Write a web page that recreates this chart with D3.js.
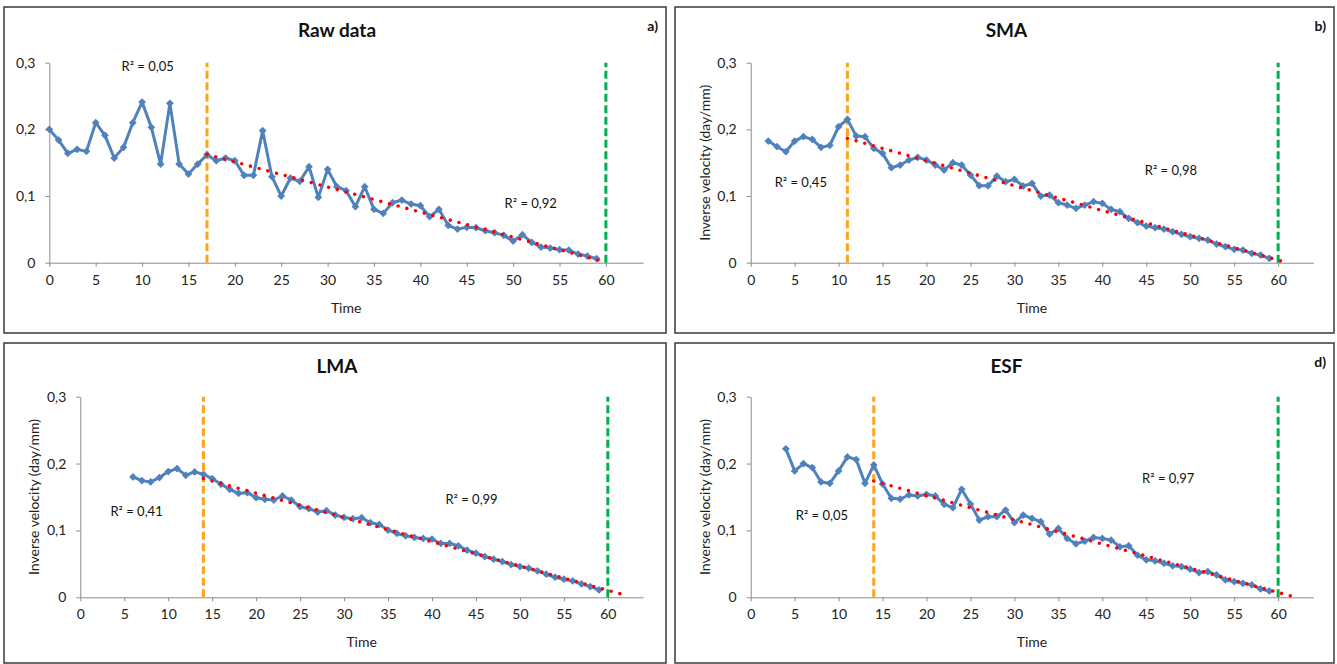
<!DOCTYPE html>
<html>
<head>
<meta charset="utf-8">
<title>Inverse velocity</title>
<script src="https://cdn.jsdelivr.net/npm/d3@7"></script>
<style>
body { margin: 0; background: #fff; font-family: Lato, "Open Sans", sans-serif; }
.frame { fill: #fff; stroke: #3a3a3a; stroke-width: 1.5px; }
.axis path, .axis line { stroke: #8c8c8c; stroke-width: 1px; fill: none; }
.axis text { font-family: Lato, sans-serif; font-size: 14px; fill: #222; }
.title { font-size: 19px; font-weight: bold; fill: #111; }
.corner { font-size: 14px; font-weight: bold; fill: #111; }
.axis-label { font-size: 14px; fill: #222; }
.r2 { font-size: 13px; fill: #111; }
</style>
</head>
<body>
<script>
// series: inverse velocity (day/mm) per time step
var rawStart = 0;
var rawValues = [0.200,0.184,0.164,0.170,0.167,0.210,0.191,0.157,0.173,0.210,
  0.241,0.203,0.148,0.239,0.148,0.133,0.148,0.162,0.153,0.157,
  0.153,0.131,0.131,0.198,0.129,0.100,0.127,0.122,0.144,0.098,
  0.140,0.114,0.108,0.084,0.114,0.080,0.074,0.090,0.094,0.088,
  0.0855,0.069,0.080,0.056,0.0505,0.053,0.0525,0.048,0.045,0.041,
  0.0325,0.042,0.0305,0.0235,0.022,0.0195,0.019,0.013,0.010,0.006];

var smaStart = 2;
var smaValues = [0.1825,0.174,0.1665,0.1825,0.189,0.185,0.173,0.176,0.204,0.215,
  0.190,0.189,0.1715,0.164,0.1425,0.1465,0.154,0.158,0.154,0.1465,
  0.139,0.150,0.1465,0.1315,0.1155,0.1155,0.130,0.1215,0.125,0.115,
  0.119,0.100,0.1015,0.090,0.0865,0.0815,0.0865,0.0915,0.089,0.080,
  0.0765,0.0665,0.060,0.055,0.0525,0.0505,0.0465,0.0425,0.039,0.0365,
  0.034,0.028,0.024,0.020,0.019,0.014,0.0115,0.0065];

var lmaStart = 6;
var lmaValues = [0.180,0.1745,0.1725,0.179,0.188,0.1925,0.1825,0.1875,0.184,0.1775,
  0.169,0.1615,0.1555,0.1565,0.149,0.1465,0.1455,0.1515,0.1455,0.1355,
  0.1325,0.1275,0.1295,0.123,0.1195,0.1175,0.119,0.1115,0.109,0.1005,
  0.0955,0.092,0.0895,0.088,0.087,0.0805,0.0805,0.077,0.0705,0.066,
  0.061,0.057,0.0535,0.049,0.046,0.0435,0.0395,0.0345,0.030,0.027,
  0.0245,0.020,0.016,0.011];

var esfStart = 4;
var esfValues = [0.222,0.189,0.200,0.194,0.1725,0.1705,0.189,0.210,0.206,0.1705,
  0.198,0.1695,0.148,0.147,0.153,0.1515,0.154,0.1515,0.139,0.134,
  0.1615,0.1395,0.1155,0.1205,0.1205,0.1305,0.1115,0.123,0.118,0.113,
  0.0945,0.103,0.088,0.080,0.084,0.0895,0.088,0.0855,0.0755,0.077,
  0.063,0.056,0.0545,0.051,0.047,0.046,0.042,0.037,0.0385,0.0335,
  0.026,0.0235,0.021,0.0185,0.0125,0.0095];

var panelTitles = ["Raw data", "SMA", "LMA", "ESF"];
var cornerTags = ["a)", "b)", "", "d)"];
var onsetTimes = [17, 11, 14, 14];     // orange: start of linear phase
var failureTime = 60;                   // green: failure
var trendEnds = [60, 61, 62, 62];       // trendline forecast end
var r2Before = ["R² = 0,05", "R² = 0,45", "R² = 0,41", "R² = 0,05"];
var r2After = ["R² = 0,92", "R² = 0,98", "R² = 0,99", "R² = 0,97"];
var xTicks = d3.range(0, 61, 5);
var yTicks = [0, 0.1, 0.2, 0.3];

var series = [
  { start: rawStart, values: rawValues },
  { start: smaStart, values: smaValues },
  { start: lmaStart, values: lmaValues },
  { start: esfStart, values: esfValues }
];

// panel frames and plot areas (pixels), label anchors in data units
var layout = [
  { box: [4, 7, 662, 326],   plot: [49.3, 643, 62.7, 262.7],  yLabel: false, r2a: [10.6, 0.295], r2b: [51.9, 0.0895] },
  { box: [675, 7, 659, 326], plot: [750.7, 1313.3, 62.7, 262.7], yLabel: true, r2a: [5.7, 0.121], r2b: [47.8, 0.139] },
  { box: [4, 343, 662, 320], plot: [80.3, 643, 396.7, 597.3], yLabel: true, r2a: [6.4, 0.128], r2b: [44.5, 0.147] },
  { box: [675, 343, 659, 320], plot: [750.7, 1313.3, 396.7, 597.3], yLabel: true, r2a: [8.1, 0.123], r2b: [47.5, 0.177] }
];

var svg = d3.select("body").append("svg")
  .attr("width", 1337)
  .attr("height", 664);

var fmt = function(d) { return d === 0 ? "0" : d.toFixed(1).replace(".", ","); };

function fit(pts) {
  var mx = d3.mean(pts, function(p) { return p.t; });
  var my = d3.mean(pts, function(p) { return p.v; });
  var sxy = d3.sum(pts, function(p) { return (p.t - mx) * (p.v - my); });
  var sxx = d3.sum(pts, function(p) { return (p.t - mx) * (p.t - mx); });
  var b = sxy / sxx;
  return { a: my - b * mx, b: b };
}

layout.forEach(function(L, i) {
  var g = svg.append("g");
  var box = L.box, p = L.plot;

  g.append("rect").attr("class", "frame")
    .attr("x", box[0]).attr("y", box[1])
    .attr("width", box[2]).attr("height", box[3]);

  var x = d3.scaleLinear().domain([0, 64]).range([p[0], p[1]]);
  var y = d3.scaleLinear().domain([0, 0.3]).range([p[3], p[2]]);

  g.append("g").attr("class", "axis")
    .attr("transform", "translate(0," + p[3] + ")")
    .call(d3.axisBottom(x).tickValues(xTicks).tickSize(4).tickPadding(8).tickSizeOuter(0));

  g.append("g").attr("class", "axis")
    .attr("transform", "translate(" + p[0] + ",0)")
    .call(d3.axisLeft(y).tickValues(yTicks).tickFormat(fmt).tickSize(4).tickPadding(10).tickSizeOuter(0));

  g.append("text").attr("class", "title")
    .attr("x", (box[0] + box[0] + box[2]) / 2 + 2)
    .attr("y", box[1] + 30)
    .attr("text-anchor", "middle")
    .text(panelTitles[i]);

  g.append("text").attr("class", "corner")
    .attr("x", box[0] + box[2] - 8)
    .attr("y", box[1] + 24)
    .attr("text-anchor", "end")
    .text(cornerTags[i]);

  g.append("text").attr("class", "axis-label")
    .attr("x", (p[0] + p[1]) / 2)
    .attr("y", p[3] + 50)
    .attr("text-anchor", "middle")
    .text("Time");

  if (L.yLabel) {
    g.append("text").attr("class", "axis-label")
      .attr("transform", "translate(" + (p[0] - 41) + "," + ((p[2] + p[3]) / 2) + ") rotate(-90)")
      .attr("text-anchor", "middle")
      .text("Inverse velocity (day/mm)");
  }

  // onset and failure markers
  g.append("line")
    .attr("x1", x(onsetTimes[i])).attr("x2", x(onsetTimes[i]))
    .attr("y1", y(0)).attr("y2", y(0.3))
    .attr("stroke", "#FFA31A").attr("stroke-width", 3)
    .attr("stroke-dasharray", "8,3.5");

  g.append("line")
    .attr("x1", x(failureTime)).attr("x2", x(failureTime))
    .attr("y1", y(0)).attr("y2", y(0.3))
    .attr("stroke", "#00B050").attr("stroke-width", 3)
    .attr("stroke-dasharray", "8,3.5");

  var s = series[i];
  var pts = s.values.map(function(v, k) { return { t: s.start + k, v: v }; });

  var line = d3.line()
    .x(function(d) { return x(d.t); })
    .y(function(d) { return y(d.v); });

  g.append("path").datum(pts)
    .attr("d", line)
    .attr("fill", "none")
    .attr("stroke", "#4F81BD")
    .attr("stroke-width", 3)
    .attr("stroke-linejoin", "round");

  g.selectAll(".mark").data(pts).enter().append("path")
    .attr("class", "mark")
    .attr("d", d3.symbol().type(d3.symbolSquare).size(30))
    .attr("transform", function(d) { return "translate(" + x(d.t) + "," + y(d.v) + ") rotate(45)"; })
    .attr("fill", "#4F81BD");

  // linear trend after onset
  var after = pts.filter(function(d) { return d.t >= onsetTimes[i]; });
  var f = fit(after);
  var tEnd = trendEnds[i];
  g.append("line")
    .attr("x1", x(onsetTimes[i])).attr("y1", y(f.a + f.b * onsetTimes[i]))
    .attr("x2", x(tEnd)).attr("y2", y(Math.max(0, f.a + f.b * tEnd)))
    .attr("stroke", "#FF0000").attr("stroke-width", 3.6)
    .attr("stroke-linecap", "round")
    .attr("stroke-dasharray", "0,9");

  g.append("text").attr("class", "r2")
    .attr("x", x(L.r2a[0])).attr("y", y(L.r2a[1]))
    .attr("dy", "0.35em")
    .attr("text-anchor", "middle")
    .text(r2Before[i]);

  g.append("text").attr("class", "r2")
    .attr("x", x(L.r2b[0])).attr("y", y(L.r2b[1]))
    .attr("dy", "0.35em")
    .attr("text-anchor", "middle")
    .text(r2After[i]);
});
</script>
</body>
</html>
